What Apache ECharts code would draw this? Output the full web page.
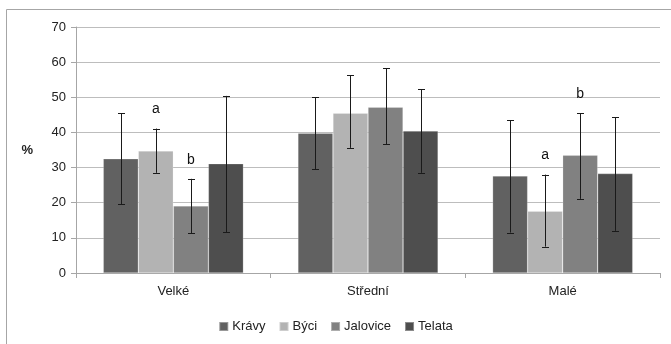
<!DOCTYPE html>
<html>
<head>
<meta charset="utf-8">
<script src="https://cdn.jsdelivr.net/npm/echarts@6/dist/echarts.min.js"></script>
<style>
  html, body { margin: 0; padding: 0; background: #fff; }
  #chart { width: 671px; height: 344px; }
</style>
</head>
<body>
<div id="chart"></div>
<script>
// Herd size classes and animal groups
const categories = ['Velké', 'Střední', 'Malé'];
const seriesNames = ['Krávy', 'Býci', 'Jalovice', 'Telata'];

// Mean shares (%) per group, one entry per size class
const kravy    = [32.5, 39.8, 27.6];
const byci     = [34.7, 45.5, 17.6];
const jalovice = [19.1, 47.2, 33.5];
const telata   = [31.1, 40.4, 28.3];

// Error bar limits (lower, upper)
const kravyLow    = [19.5, 29.6, 11.5];
const kravyHigh   = [45.5, 50.0, 43.5];
const byciLow     = [28.5, 35.6, 7.5];
const byciHigh    = [41.1, 56.2, 28.0];
const jaloviceLow = [11.3, 36.6, 21.1];
const jaloviceHigh= [26.8, 58.3, 45.5];
const telataLow   = [11.6, 28.5, 12.0];
const telataHigh  = [50.4, 52.3, 44.3];

// Significance letters above bars ('' = none)
const byciLetters     = ['a', '', 'a'];
const jaloviceLetters = ['b', '', 'b'];

const yTicks = [0, 10, 20, 30, 40, 50, 60, 70];

const colors = ['#616161', '#b3b3b3', '#818181', '#4e4e4e'];
const values = [kravy, byci, jalovice, telata];
const lows = [kravyLow, byciLow, jaloviceLow, telataLow];
const highs = [kravyHigh, byciHigh, jaloviceHigh, telataHigh];
const letters = [['', '', ''], byciLetters, jaloviceLetters, ['', '', '']];

const CAT_GAP = 0.28;
const FONT = '"Liberation Sans", Arial, sans-serif';

const chart = echarts.init(document.getElementById('chart'), null, { renderer: 'canvas' });

const series = [];
seriesNames.forEach((name, i) => {
  series.push({
    name: name,
    type: 'bar',
    data: values[i],
    barGap: '0%',
    barCategoryGap: (CAT_GAP * 100) + '%',
    itemStyle: { color: colors[i], borderColor: 'rgba(255,255,255,0.35)', borderWidth: 0.6 },
    emphasis: { disabled: true },
    z: 2
  });
});

// Error bars and letters drawn on top of each bar
seriesNames.forEach((name, i) => {
  series.push({
    type: 'custom',
    name: name + '_err',
    data: values[i].map((v, k) => [k, lows[i][k], highs[i][k]]),
    encode: { x: 0, y: [1, 2] },
    z: 5,
    silent: true,
    renderItem: function (params, api) {
      const k = api.value(0);
      const catW = api.size([1, 0])[0];
      const barW = catW * (1 - CAT_GAP) / 4;
      const center = api.coord([k, 0])[0] + (i - 1.5) * barW;
      const pLow = api.coord([k, api.value(1)])[1];
      const pHigh = api.coord([k, api.value(2)])[1];
      const cap = 3.5;
      const style = { stroke: '#1a1a1a', lineWidth: 1 };
      const x = Math.round(center) + 0.5;
      const children = [
        { type: 'line', shape: { x1: x, y1: pLow, x2: x, y2: pHigh }, style: style },
        { type: 'line', shape: { x1: x - cap, y1: Math.round(pLow) + 0.5, x2: x + cap, y2: Math.round(pLow) + 0.5 }, style: style },
        { type: 'line', shape: { x1: x - cap, y1: Math.round(pHigh) + 0.5, x2: x + cap, y2: Math.round(pHigh) + 0.5 }, style: style }
      ];
      const letter = letters[i][k];
      if (letter) {
        children.push({
          type: 'text',
          style: {
            text: letter, x: center, y: pHigh - 19,
            align: 'center', verticalAlign: 'middle',
            font: '14px ' + FONT, fill: '#111'
          }
        });
      }
      return { type: 'group', children: children };
    }
  });
});

chart.setOption({
  animation: false,
  backgroundColor: '#fff',
  grid: { left: 76, right: 11, top: 27, bottom: 71 },
  graphic: [{
    type: 'rect',
    shape: { x: 6.5, y: 9.5, width: 700, height: 400 },
    style: { fill: 'none', stroke: '#a6a6a6', lineWidth: 1 },
    silent: true,
    z: -1
  }],
  legend: {
    data: seriesNames,
    left: 'center',
    bottom: 6,
    itemWidth: 9,
    itemHeight: 9,
    itemGap: 13,
    icon: 'rect',
    textStyle: { fontFamily: FONT, fontSize: 13, color: '#222', padding: [0, 0, 0, -1] }
  },
  xAxis: {
    type: 'category',
    data: categories,
    axisLine: { lineStyle: { color: '#a6a6a6' } },
    axisTick: { show: true, length: 5, lineStyle: { color: '#a6a6a6' } },
    axisLabel: { fontFamily: FONT, fontSize: 13, color: '#222', margin: 12 }
  },
  yAxis: {
    type: 'value',
    min: yTicks[0],
    max: yTicks[yTicks.length - 1],
    interval: 10,
    name: '%',
    nameLocation: 'middle',
    nameRotate: 0,
    nameGap: 43,
    nameTextStyle: { fontFamily: FONT, fontSize: 13, color: '#222', fontWeight: 'bold' },
    axisLine: { show: true, lineStyle: { color: '#a6a6a6' } },
    axisTick: { show: true, length: 5, lineStyle: { color: '#a6a6a6' } },
    splitLine: { lineStyle: { color: '#bdbdbd' } },
    axisLabel: { fontFamily: FONT, fontSize: 13, color: '#222', margin: 10 }
  },
  series: series
});
</script>
</body>
</html>
